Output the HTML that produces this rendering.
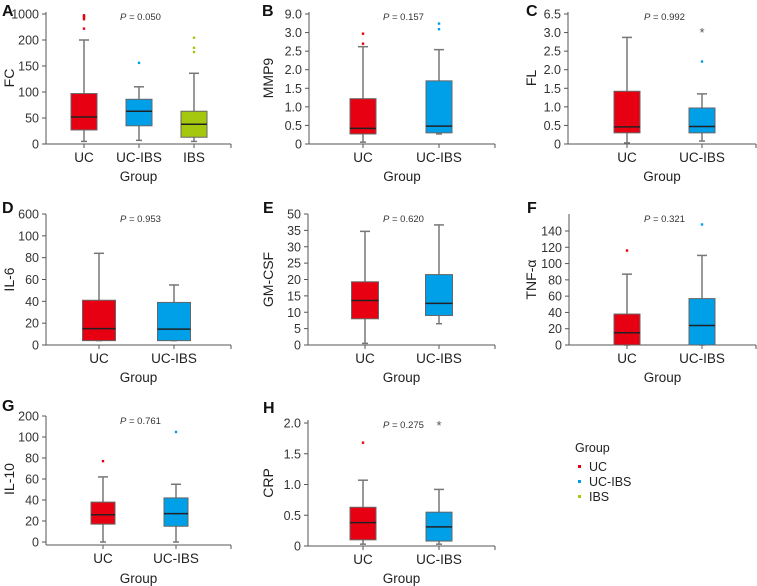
<!DOCTYPE html>
<html><head><meta charset="utf-8"><style>
body{margin:0;background:#fff;}
svg{display:block;font-family:"Liberation Sans",sans-serif;}
</style></head><body>
<svg id="fig" width="757" height="586" viewBox="0 0 757 586"></svg>
<script>
// ---- data ----
const groupsAll = ["UC","UC-IBS","IBS"];
const colors = ["#e60012","#00a0e9","#a5c80f"];
// Panel A FC
const ticksA = [0,50,100,150,200,1000];
const statsA = [[5,27,52,97,200],[7,35,63,86,110],[5,13,38,63,136]];
const outA = [[960,930,900,840,550],[156],[270,185,177]];
// Panel B MMP9
const ticksB = [0,0.5,1.0,1.5,2.0,2.5,3.0,9.0];
const statsB = [[0.05,0.27,0.42,1.22,2.62],[0.27,0.3,0.48,1.7,2.54]];
const outB = [[2.97,2.7],[5.9,4.1]];
// Panel C FL
const ticksC = [0,0.5,1.0,1.5,2.0,2.5,3.0,6.5];
const statsC = [[0.03,0.3,0.46,1.42,2.87],[0.08,0.3,0.47,0.97,1.35]];
const outC = [[],[2.22]];
const starC = [null,3.45];
// Panel D IL-6
const ticksD = [0,20,40,60,80,100,600];
const statsD = [[4,4,15,41,84],[4,4,14.5,39,55]];
const outD = [[],[]];
// Panel E GM-CSF
const ticksE = [0,5,10,15,20,25,30,35,50];
const statsE = [[0.5,8,13.6,19.3,34.7],[6.5,9,12.7,21.5,40]];
const outE = [[],[]];
// Panel F TNF-a
const ticksF = [0,20,40,60,80,100,120,140];
const statsF = [[0,0,15,38,87],[0,0,24,57,110]];
const outF = [[116],[148]];
// Panel G IL-10
const ticksG = [0,20,40,60,80,100,200];
const statsG = [[0,17,26,38,62],[0,15,27,42,55]];
const outG = [[77],[124]];
// Panel H CRP
const ticksH = [0,0.5,1.0,1.5,2.0];
const statsH = [[0.03,0.1,0.38,0.63,1.07],[0.03,0.08,0.31,0.55,0.92]];
const outH = [[1.68],[]];
const starH = [null,2.0];

// ---- layout ----
const panels = [
 {id:"a",letter:"A",lx:2,ly:13,title:"FC",tx:9,p:"0.050",px:120,ax:46,ar:231,yb:144,yt:14,atop:12,cx:[84,139,194],bw:26,ticks:ticksA,stats:statsA,out:outA,star:null,gy:181,tf:"0"},
 {id:"b",letter:"B",lx:262,ly:13,title:"MMP9",tx:268,p:"0.157",px:383,ax:309,ar:495,yb:144,yt:14,atop:12,cx:[363,439],bw:26,ticks:ticksB,stats:statsB,out:outB,star:null,gy:181,tf:"1"},
 {id:"c",letter:"C",lx:526,ly:13,title:"FL",tx:531,p:"0.992",px:644,ax:568,ar:756,yb:144,yt:14,atop:12,cx:[627,702],bw:26,ticks:ticksC,stats:statsC,out:outC,star:starC,gy:181,tf:"1"},
 {id:"d",letter:"D",lx:2,ly:210,title:"IL-6",tx:9,p:"0.953",px:120,ax:46,ar:231,yb:345,yt:214,atop:214,cx:[99,174],bw:33,ticks:ticksD,stats:statsD,out:outD,star:null,gy:382,tf:"0"},
 {id:"e",letter:"E",lx:263,ly:210,title:"GM-CSF",tx:268,p:"0.620",px:383,ax:308,ar:495,yb:345,yt:214,atop:214,cx:[365,439],bw:27,ticks:ticksE,stats:statsE,out:outE,star:null,gy:382,tf:"0"},
 {id:"f",letter:"F",lx:527,ly:210,title:"TNF-α",tx:531,p:"0.321",px:644,ax:569,ar:756,yb:345,yt:231,atop:214,cx:[627,702],bw:26,ticks:ticksF,stats:statsF,out:outF,star:null,gy:382,tf:"0"},
 {id:"g",letter:"G",lx:2,ly:408,title:"IL-10",tx:9,p:"0.761",px:120,ax:46,ar:231,yb:542,yt:416,atop:416,cx:[103,176],bw:24,ticks:ticksG,stats:statsG,out:outG,star:null,gy:583,tf:"0",xaxisY:545},
 {id:"h",letter:"H",lx:263,ly:410,title:"CRP",tx:268,p:"0.275",px:383,ax:308,ar:495,yb:546,yt:423,atop:420,cx:[363,439],bw:26,ticks:ticksH,stats:statsH,out:outH,star:starH,gy:583,tf:"1"}
];

const NS="http://www.w3.org/2000/svg";
const svg=document.getElementById("fig");
function mk(tag,attrs,parent,text){const e=document.createElementNS(NS,tag);for(const k in attrs)e.setAttribute(k,attrs[k]);if(text!==undefined)e.textContent=text;(parent||svg).appendChild(e);return e;}

function yScale(p){
  const n=p.ticks.length-1, step=(p.yb-p.yt)/n;
  return function(v){
    const t=p.ticks;
    if(v<=t[0]) return p.yb-(v-t[0])/(t[1]-t[0])*step;
    for(let i=0;i<n;i++){ if(v<=t[i+1]) return p.yb-(i+(v-t[i])/(t[i+1]-t[i]))*step; }
    return p.yb-(n+(v-t[n])/(t[n]-t[n-1]))*step;
  };
}
function fmt(v,tf){ if(v===0) return "0"; return tf==="1"?v.toFixed(1):String(v); }

panels.forEach(p=>{
  const g=mk("g",{});
  
  
  const y=yScale(p);
  const L=mk("text",{x:p.lx,y:p.ly+3,"font-size":16,"font-weight":"bold",fill:"#111"},g,p.letter);
  
  
  const xaY=p.xaxisY||p.yb;
  const ya=mk("line",{x1:p.ax,y1:p.atop,x2:p.ax,y2:xaY,stroke:"#555","stroke-width":1},g);
  
  
  p.ticks.forEach(t=>{
    const yy=y(t);
    const tk=mk("line",{x1:p.ax-4,y1:yy,x2:p.ax,y2:yy,stroke:"#555"},g);
    
    
    const tl=mk("text",{x:p.ax-7,y:yy+4.5,"text-anchor":"end","font-size":12.5,fill:"#333"},g,fmt(t,p.tf));
    
    
  });
  const xa=mk("line",{x1:p.ax,y1:xaY,x2:p.ar,y2:xaY,stroke:"#555"},g);
  
  
  mk("line",{x1:p.ar,y1:xaY,x2:p.ar,y2:xaY+4,stroke:"#555"},g);
  const my=(p.yb+p.atop)/2;
  const ttl=mk("text",{x:p.tx,y:my,"text-anchor":"middle","font-size":14,fill:"#222",transform:`rotate(-90 ${p.tx} ${my})`,"dominant-baseline":"central"},g,p.title);
  
  
  const pt=mk("text",{x:p.px,y:p.atop+8,"font-size":9.5,fill:"#333"},g);
  
  
  mk("tspan",{"font-style":"italic"},pt,"P");
  mk("tspan",{},pt," = "+p.p);
  const gl=mk("text",{x:(p.ax+p.ar)/2,y:p.gy,"text-anchor":"middle","font-size":13.5,fill:"#222"},g,"Group");
  
  
  p.stats.forEach((s,i)=>{
    const cx=p.cx[i];
    mk("line",{x1:cx,y1:xaY,x2:cx,y2:xaY+4,stroke:"#555"},g);
    const cl=mk("text",{x:cx,y:xaY+18,"text-anchor":"middle","font-size":13.5,fill:"#222"},g,groupsAll[i]);
    
    
    const w=mk("line",{x1:cx,y1:y(s[0]),x2:cx,y2:y(s[4]),stroke:"#777","stroke-width":1.5},g);
    
    
    mk("line",{x1:cx-5,y1:y(s[4]),x2:cx+5,y2:y(s[4]),stroke:"#777","stroke-width":1.5},g);
    mk("line",{x1:cx-3,y1:y(s[0]),x2:cx+3,y2:y(s[0]),stroke:"#777","stroke-width":1.5},g);
    const b=mk("rect",{x:cx-p.bw/2,y:y(s[3]),width:p.bw,height:y(s[1])-y(s[3]),fill:colors[i],stroke:"#666","stroke-width":1},g);
    
    
    const m=mk("line",{x1:cx-p.bw/2,y1:y(s[2]),x2:cx+p.bw/2,y2:y(s[2]),stroke:"#222","stroke-width":1.5},g);
    
    
    (p.out[i]||[]).forEach(v=>{
      const o=mk("rect",{x:cx-1.2,y:y(v)-1.2,width:2.4,height:2.4,fill:colors[i]},g);
      
      
    });
    if(p.star&&p.star[i]!=null){
      const st=mk("text",{x:cx,y:y(p.star[i])+7,"text-anchor":"middle","font-size":13,fill:"#555"},g,"*");
      
      
    }
  });
});
const lg=mk("g",{});


mk("text",{x:575,y:452,"font-size":12.5,fill:"#222"},lg,"Group");
groupsAll.forEach((gname,i)=>{
  const yy=467+i*15;
  const d=mk("rect",{x:578,y:yy-2,width:3,height:3,fill:colors[i]},lg);
  
  
  const t=mk("text",{x:589,y:yy+4,"font-size":12.5,fill:"#222"},lg,gname);
  
  
});
</script>
</body></html>
